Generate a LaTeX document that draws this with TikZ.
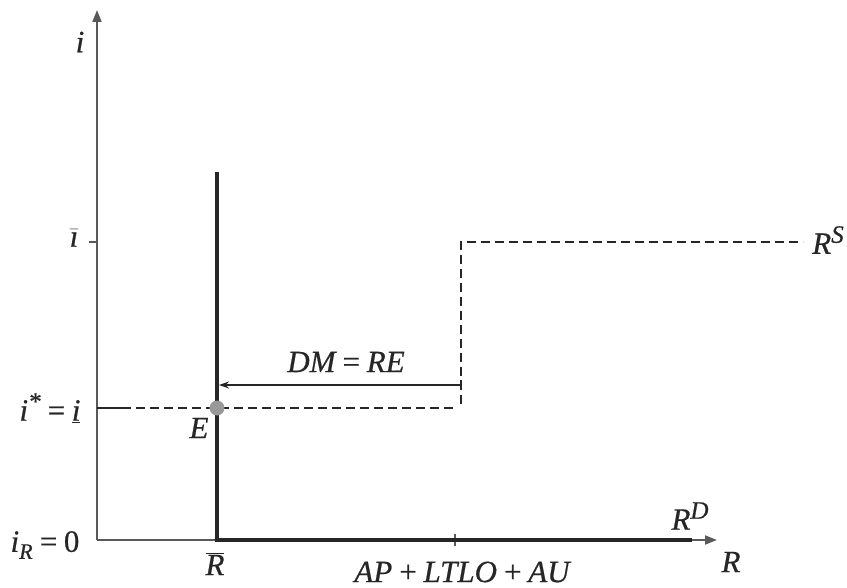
\documentclass[tikz,border=0pt]{standalone}
\usepackage{fontspec}
\setmainfont{Liberation Serif}
\newfontfamily\lblfont{Liberation Serif}[FakeBold=0.6]
\usetikzlibrary{arrows.meta,calc}
\newcommand{\supx}[1]{\raisebox{11pt}{\fontsize{25}{28}\selectfont #1}}
\newcommand{\subx}[1]{\raisebox{-7pt}{\fontsize{22}{26}\selectfont #1}}
\begin{document}
\begin{tikzpicture}[x=1pt,y=-1pt,
  lbl/.style={font=\fontsize{31}{36}\lblfont\itshape, inner sep=1pt, text=black!85},
  axisline/.style={line width=1.8pt, draw=black!65, -{Triangle[length=12pt,width=9pt]}},
  thickline/.style={line width=4pt, draw=black!85},
  dashline/.style={line width=2.6pt, draw=black!85, dash pattern=on 9pt off 5pt},
  thinarrow/.style={line width=1.6pt, draw=black!85, -{Stealth[length=10pt,width=7pt]}}]
\useasboundingbox (0,0) rectangle (847,588);
% coordinates
\coordinate (O) at (97,540);
\coordinate (ytop) at (97,10);
\coordinate (xend) at (717,540);
\coordinate (Rbar) at (217,540);
\coordinate (Rtop) at (217,172);
\coordinate (RDend) at (692,540);
\coordinate (istar0) at (97,408);
\coordinate (istar1) at (122,408);
\coordinate (istar2) at (455,408);
\coordinate (step0) at (461,404);
\coordinate (step1) at (461,242);
\coordinate (step2) at (803,242);
\coordinate (ibar0) at (89,242);
\coordinate (ibar1) at (97,242);
\coordinate (dmR) at (461,385);
\coordinate (dmL) at (219,385);
\coordinate (tick0) at (455,534);
\coordinate (tick1) at (455,546);
% axes
\draw[axisline] (O) -- (ytop);
\draw[axisline] (O) -- (xend);
\draw[line width=1.8pt, draw=black!65] (ibar0) -- (ibar1);
\draw[line width=1.2pt, draw=black!65] (tick0) -- (tick1);
% R^D
\draw[thickline] (Rtop) -- (Rbar) -- (RDend);
% R^S
\draw[line width=2pt, draw=black!85] (istar0) -- (istar1);
\draw[dashline] (istar1) -- (istar2);
\draw[dashline] (step0) -- (step1) -- (step2);
% DM = RE arrow
\draw[thinarrow] (dmR) -- (dmL);
\draw[line width=1.6pt, draw=black!85] ($(dmR)+(0,-5)$) -- ($(dmR)+(0,5)$);
% E point
\node[circle, fill=black!40, minimum size=15pt, inner sep=0pt] (E) at (217,408) {};
% labels
\node[lbl] (li) at (80,42) {i};
\node[lbl] (libar) at (74,238) {$\bar{\textit{\lblfont\i}}$};
\node[lbl] (listar) at (50,408) {i\supx{*}\,=\,\underline{i}};
\node[lbl] (liR) at (45,545) {i\subx{R}\,=\,\upshape0};
\node[lbl] (lRbar) at (215,564) {$\overline{\textit{\lblfont R}}$};
\node[lbl] (lAP) at (462,572) {AP\,+\,LTLO\,+\,AU};
\node[lbl] (lR) at (731,562) {R};
\node[lbl] (lRD) at (690,516) {R\supx{D}};
\node[lbl] (lRS) at (828,240) {R\supx{S}};
\node[lbl] (lDM) at (346,362) {DM\,=\,RE};
\node[lbl] (lE) at (199,428) {E};
\end{tikzpicture}
\end{document}
